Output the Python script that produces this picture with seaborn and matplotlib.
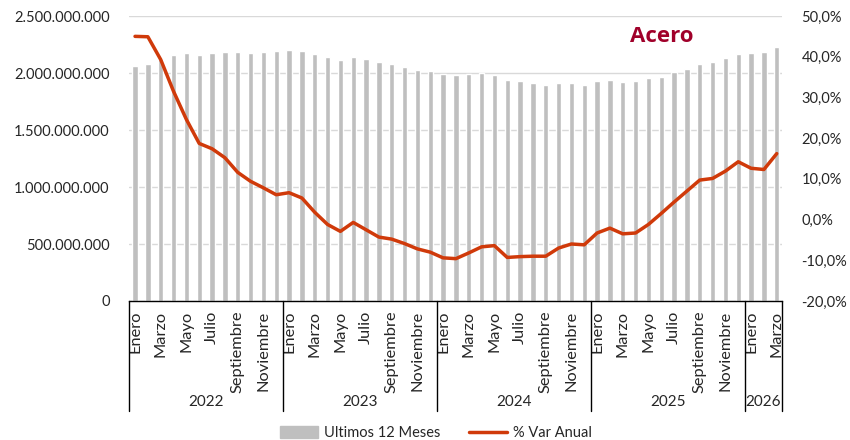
import numpy as np
import pandas as pd
import matplotlib
matplotlib.use("Agg")
import matplotlib.pyplot as plt
from matplotlib.patches import Patch
from matplotlib.lines import Line2D
from matplotlib.ticker import FuncFormatter, MultipleLocator
import seaborn as sns

# Datos: acumulado ultimos 12 meses (toneladas) y variacion anual (%)
years = [2022, 2023, 2024, 2025, 2026]
month_names = ["Enero", "Febrero", "Marzo", "Abril", "Mayo", "Junio", "Julio",
               "Agosto", "Septiembre", "Octubre", "Noviembre", "Diciembre"]

ultimos_12 = [
    2064, 2082, 2123, 2158, 2175, 2158, 2172, 2187, 2181, 2178, 2184, 2193,
    2202, 2196, 2167, 2137, 2114, 2143, 2123, 2096, 2082, 2053, 2029, 2018,
    1994, 1986, 1991, 2000, 1982, 1942, 1930, 1912, 1895, 1909, 1909, 1895,
    1927, 1942, 1924, 1933, 1956, 1968, 2006, 2038, 2082, 2099, 2134, 2167,
    2172, 2184, 2231,
]
ultimos_12 = [v * 1e6 for v in ultimos_12]

var_anual = [
    45.0, 44.9, 39.3, 31.5, 24.6, 18.7, 17.4, 15.2, 11.6, 9.4, 7.8, 6.1,
    6.6, 5.3, 1.8, -1.2, -2.9, -0.7, -2.5, -4.3, -4.8, -5.9, -7.2, -8.0,
    -9.4, -9.6, -8.2, -6.7, -6.4, -9.3, -9.1, -9.0, -9.0, -7.0, -6.0, -6.2,
    -3.3, -2.1, -3.5, -3.3, -1.2, 1.5, 4.3, 7.0, 9.7, 10.1, 11.9, 14.2,
    12.6, 12.3, 16.2,
]

n = len(ultimos_12)
month_idx = [i % 12 for i in range(n)]
year_of = [years[i // 12] for i in range(n)]
df = pd.DataFrame({
    "periodo": [f"{y}-{m + 1:02d}" for y, m in zip(year_of, month_idx)],
    "acumulado": ultimos_12,
    "var": var_anual,
    "pos": np.arange(n),
})

sns.set_theme(style="white")
plt.rcParams["font.family"] = ["Lato", "DejaVu Sans"]

BAR = "#BFBFBF"
LINE = "#D03A0A"
TXT = "#262626"

fig = plt.figure(figsize=(8.5, 4.4), dpi=100)
ax = fig.add_axes([129 / 850, 1 - 301 / 440, (782 - 129) / 850, 285 / 440])

sns.barplot(data=df, x="periodo", y="acumulado", color=BAR, saturation=1,
            width=0.42, ax=ax, order=df["periodo"].tolist())
ax.set_ylim(0, 2.5e9)
ax.yaxis.set_major_locator(MultipleLocator(5e8))
ax.yaxis.set_major_formatter(FuncFormatter(lambda v, p: f"{int(v):,}".replace(",", ".")))
ax.grid(axis="y", color="#D9D9D9", linewidth=1)
ax.set_axisbelow(True)
ax.set_xlabel("")
ax.set_ylabel("")

ax2 = ax.twinx()
sns.lineplot(data=df, x="pos", y="var", color=LINE, linewidth=2.5, ax=ax2)
ax2.set_ylim(-20, 50)
ax2.yaxis.set_major_locator(MultipleLocator(10))
ax2.yaxis.set_major_formatter(FuncFormatter(lambda v, p: f"{v:.1f}%".replace(".", ",")))
ax2.set_ylabel("")
ax2.set_xlabel("")

x_left, x_right = -0.47, 50.41
ax.set_xlim(x_left, x_right)
ax2.set_xlim(x_left, x_right)

for a in (ax, ax2):
    for s in ["top", "left", "right", "bottom"]:
        a.spines[s].set_visible(False)
ax.spines["bottom"].set_visible(True)
ax.spines["bottom"].set_color("#000000")
ax.spines["bottom"].set_linewidth(1)

ax.tick_params(axis="y", length=0, pad=14, labelsize=10.5, labelcolor=TXT)
ax2.tick_params(axis="y", length=0, pad=14, labelsize=10.5, labelcolor=TXT)

# etiquetas de mes (cada dos meses)
tick_pos = [i for i in range(n) if month_idx[i] % 2 == 0]
ax.set_xticks(tick_pos)
ax.set_xticklabels([month_names[month_idx[i]] for i in tick_pos], rotation=90,
                   fontsize=11.8, color=TXT)
ax.tick_params(axis="x", length=0, pad=7)

# separadores y etiquetas de año
bounds = [x_left] + [12 * k - 0.5 for k in range(1, len(years))] + [x_right]
for b in bounds:
    ax.plot([b, b], [0, -0.386], transform=ax.get_xaxis_transform(),
            color="#000000", linewidth=1, clip_on=False)
for k, y in enumerate(years):
    ax.text((bounds[k] + bounds[k + 1]) / 2, -0.354, str(y),
            transform=ax.get_xaxis_transform(), ha="center", va="center",
            fontsize=11, color=TXT)

fig.text(662 / 850, 1 - 37 / 440, "Acero", ha="center", va="center",
         fontsize=16, fontweight="bold", color="#A0002A",
         family=["Open Sans", "DejaVu Sans"])

handles = [Patch(facecolor=BAR, edgecolor=BAR),
           Line2D([0], [0], color=LINE, linewidth=2.5)]
fig.legend(handles, ["Ultimos 12 Meses", "% Var Anual"], loc="center",
           bbox_to_anchor=(436 / 850, 1 - 433 / 440), ncol=2, frameon=False,
           fontsize=10.5, handlelength=2.6, handleheight=0.8, columnspacing=2.0,
           handletextpad=0.4, labelcolor=TXT)

fig.savefig("out.png", dpi=100)
